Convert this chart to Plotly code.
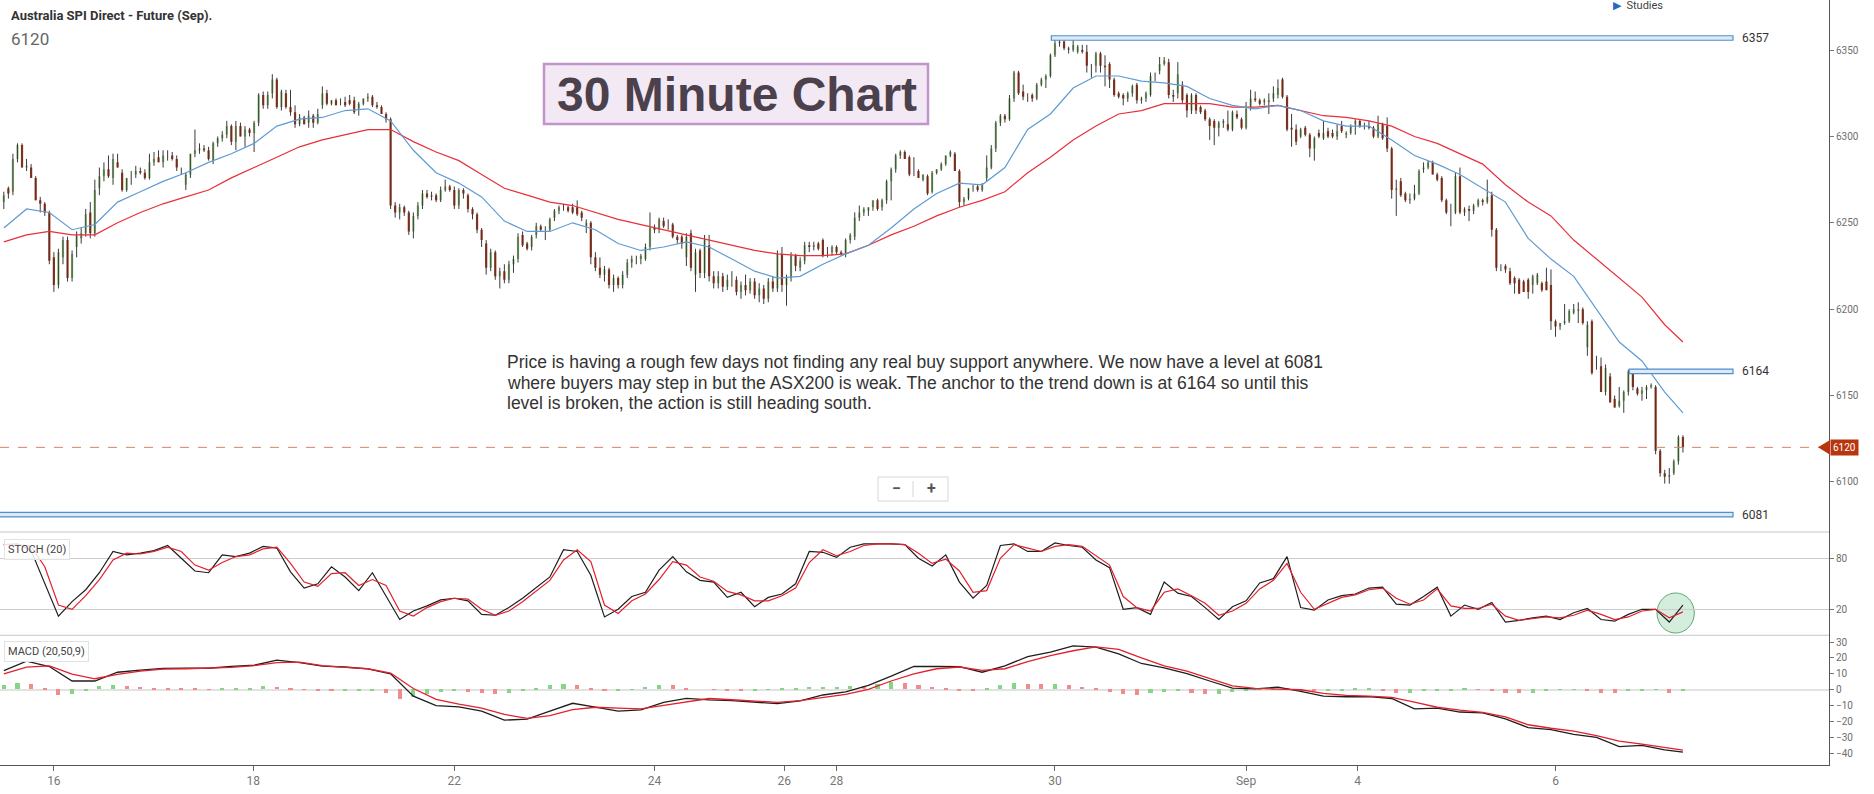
import plotly.graph_objects as go

# 30 minute bars, oldest first
opens = [
    6262, 6270, 6268, 6287, 6295, 6282, 6282, 6276, 6263, 6261,
    6256, 6230, 6214, 6230, 6240, 6218, 6236, 6241, 6244, 6256,
    6244, 6270, 6277, 6281, 6276, 6285, 6279, 6269, 6277, 6278,
    6280, 6279, 6276, 6285, 6288, 6285, 6289, 6289, 6287, 6280,
    6272, 6278, 6290, 6292, 6293, 6292, 6286, 6296, 6299, 6301,
    6306, 6297, 6306, 6300, 6304, 6302, 6308, 6324, 6318, 6325,
    6333, 6317, 6325, 6317, 6314, 6307, 6311, 6308, 6312, 6308,
    6318, 6325, 6319, 6321, 6320, 6320, 6321, 6321, 6316, 6319,
    6322, 6323, 6318, 6317, 6313, 6310, 6260, 6256, 6259, 6256,
    6245, 6254, 6260, 6267, 6265, 6266, 6263, 6269, 6271, 6269,
    6260, 6269, 6266, 6258, 6255, 6246, 6238, 6224, 6233, 6219,
    6222, 6217, 6226, 6229, 6243, 6238, 6236, 6243, 6248, 6246,
    6246, 6253, 6257, 6259, 6259, 6259, 6259, 6256, 6248, 6250,
    6230, 6224, 6220, 6223, 6214, 6218, 6214, 6220, 6227, 6229,
    6229, 6229, 6236, 6247, 6246, 6251, 6249, 6249, 6242, 6242,
    6230, 6244, 6220, 6234, 6221, 6237, 6219, 6215, 6219, 6213,
    6217, 6217, 6210, 6214, 6211, 6216, 6208, 6212, 6206, 6216,
    6212, 6232, 6214, 6218, 6231, 6224, 6228, 6237, 6236, 6238,
    6240, 6233, 6233, 6236, 6233, 6232, 6240, 6242, 6253, 6256,
    6257, 6259, 6263, 6259, 6263, 6274, 6281, 6289, 6291, 6288,
    6279, 6280, 6275, 6277, 6268, 6279, 6281, 6284, 6289, 6290,
    6280, 6262, 6264, 6270, 6271, 6269, 6276, 6282, 6293, 6308,
    6312, 6310, 6322, 6337, 6326, 6323, 6324, 6322, 6330, 6333,
    6335, 6347, 6354, 6355, 6350, 6350, 6349, 6350, 6349, 6341,
    6341, 6348, 6341, 6342, 6333, 6325, 6324, 6322, 6325, 6330,
    6321, 6322, 6324, 6335, 6338, 6342, 6343, 6324, 6325, 6330,
    6324, 6315, 6324, 6317, 6315, 6310, 6309, 6305, 6308, 6307,
    6304, 6313, 6310, 6305, 6317, 6322, 6321, 6320, 6320, 6322,
    6324, 6333, 6323, 6305, 6304, 6300, 6305, 6301, 6293, 6302,
    6299, 6303, 6302, 6300, 6306, 6301, 6302, 6307, 6309, 6306,
    6306, 6305, 6300, 6307, 6306, 6293, 6269, 6274, 6267, 6263,
    6264, 6267, 6281, 6282, 6285, 6278, 6276, 6263, 6256, 6256,
    6277, 6256, 6258, 6257, 6260, 6263, 6262, 6266, 6246, 6224,
    6225, 6222, 6218, 6217, 6216, 6217, 6214, 6215, 6215, 6216,
    6214, 6193, 6190, 6192, 6193, 6198, 6199, 6200, 6178, 6193,
    6167, 6167, 6152, 6161, 6148, 6144, 6147, 6152, 6164, 6154,
    6151, 6153, 6155, 6155, 6118, 6105, 6103, 6105, 6112, 6126,
]
highs = [
    6268, 6271, 6290, 6296, 6296, 6287, 6284, 6277, 6265, 6262,
    6257, 6233, 6235, 6242, 6242, 6234, 6245, 6247, 6258, 6262,
    6275, 6282, 6285, 6289, 6290, 6290, 6281, 6276, 6280, 6283,
    6282, 6281, 6290, 6291, 6292, 6292, 6292, 6291, 6289, 6282,
    6279, 6290, 6304, 6296, 6295, 6294, 6297, 6300, 6303, 6309,
    6307, 6309, 6308, 6306, 6305, 6309, 6325, 6326, 6326, 6336,
    6334, 6327, 6327, 6327, 6318, 6313, 6312, 6315, 6313, 6316,
    6329, 6327, 6321, 6322, 6322, 6323, 6324, 6323, 6320, 6322,
    6325, 6324, 6320, 6318, 6314, 6311, 6262, 6261, 6260, 6257,
    6256, 6262, 6269, 6269, 6268, 6267, 6271, 6275, 6272, 6271,
    6270, 6270, 6267, 6259, 6256, 6247, 6240, 6235, 6234, 6224,
    6226, 6228, 6231, 6244, 6245, 6239, 6243, 6250, 6249, 6248,
    6253, 6258, 6260, 6261, 6260, 6261, 6263, 6257, 6252, 6251,
    6233, 6230, 6225, 6224, 6220, 6219, 6222, 6229, 6231, 6231,
    6232, 6238, 6256, 6249, 6253, 6253, 6252, 6250, 6243, 6243,
    6244, 6246, 6235, 6235, 6243, 6243, 6222, 6222, 6221, 6220,
    6222, 6219, 6216, 6220, 6218, 6218, 6215, 6214, 6218, 6219,
    6234, 6236, 6220, 6233, 6232, 6230, 6239, 6239, 6239, 6239,
    6241, 6236, 6237, 6237, 6234, 6241, 6244, 6256, 6260, 6259,
    6259, 6263, 6264, 6264, 6275, 6282, 6290, 6292, 6292, 6289,
    6288, 6281, 6278, 6278, 6280, 6281, 6285, 6289, 6292, 6291,
    6281, 6265, 6270, 6272, 6272, 6273, 6289, 6295, 6309, 6313,
    6313, 6324, 6338, 6338, 6330, 6325, 6325, 6331, 6334, 6336,
    6348, 6356, 6357, 6356, 6352, 6357, 6353, 6353, 6353, 6342,
    6349, 6349, 6347, 6343, 6334, 6326, 6325, 6326, 6330, 6331,
    6323, 6326, 6337, 6337, 6346, 6346, 6345, 6327, 6343, 6332,
    6325, 6325, 6325, 6318, 6316, 6311, 6310, 6309, 6310, 6315,
    6315, 6315, 6311, 6320, 6327, 6326, 6322, 6322, 6325, 6329,
    6333, 6334, 6324, 6313, 6307, 6305, 6306, 6302, 6300, 6304,
    6309, 6305, 6304, 6307, 6309, 6303, 6307, 6310, 6310, 6308,
    6309, 6306, 6312, 6308, 6311, 6294, 6275, 6276, 6268, 6267,
    6272, 6281, 6285, 6286, 6286, 6279, 6277, 6264, 6261, 6279,
    6282, 6259, 6260, 6261, 6264, 6264, 6275, 6268, 6247, 6226,
    6226, 6224, 6219, 6218, 6217, 6218, 6220, 6221, 6216, 6224,
    6223, 6194, 6192, 6203, 6200, 6203, 6204, 6201, 6193, 6194,
    6173, 6172, 6168, 6163, 6150, 6155, 6153, 6165, 6165, 6155,
    6155, 6156, 6157, 6156, 6119, 6107, 6108, 6113, 6127, 6127,
]
lows = [
    6258, 6264, 6266, 6285, 6282, 6280, 6276, 6263, 6256, 6254,
    6226, 6210, 6212, 6226, 6216, 6216, 6230, 6238, 6242, 6241,
    6242, 6266, 6274, 6276, 6272, 6282, 6268, 6268, 6272, 6276,
    6278, 6275, 6275, 6283, 6285, 6282, 6286, 6286, 6280, 6278,
    6269, 6276, 6288, 6290, 6291, 6286, 6284, 6294, 6297, 6299,
    6295, 6292, 6300, 6294, 6300, 6291, 6306, 6316, 6316, 6322,
    6316, 6315, 6316, 6312, 6305, 6306, 6307, 6305, 6305, 6307,
    6316, 6318, 6318, 6318, 6318, 6317, 6318, 6313, 6312, 6318,
    6320, 6317, 6316, 6313, 6308, 6258, 6253, 6252, 6254, 6243,
    6241, 6252, 6258, 6264, 6263, 6262, 6262, 6268, 6268, 6258,
    6258, 6264, 6256, 6252, 6244, 6236, 6220, 6222, 6217, 6212,
    6215, 6215, 6221, 6227, 6236, 6234, 6234, 6241, 6245, 6240,
    6245, 6251, 6255, 6257, 6256, 6255, 6254, 6251, 6244, 6226,
    6222, 6218, 6216, 6212, 6210, 6212, 6212, 6218, 6224, 6226,
    6226, 6228, 6234, 6244, 6244, 6247, 6246, 6241, 6238, 6235,
    6225, 6222, 6210, 6218, 6218, 6216, 6212, 6212, 6210, 6211,
    6213, 6208, 6206, 6208, 6209, 6206, 6204, 6203, 6204, 6210,
    6210, 6210, 6202, 6216, 6222, 6222, 6226, 6233, 6234, 6234,
    6230, 6230, 6231, 6232, 6231, 6230, 6238, 6240, 6251, 6254,
    6254, 6257, 6257, 6257, 6261, 6263, 6279, 6287, 6287, 6277,
    6277, 6276, 6274, 6266, 6267, 6278, 6280, 6283, 6288, 6280,
    6259, 6260, 6263, 6268, 6268, 6268, 6274, 6281, 6291, 6306,
    6308, 6309, 6320, 6324, 6321, 6320, 6320, 6321, 6329, 6328,
    6334, 6346, 6352, 6350, 6348, 6349, 6348, 6348, 6337, 6334,
    6337, 6337, 6329, 6328, 6323, 6322, 6318, 6320, 6323, 6319,
    6319, 6320, 6323, 6332, 6336, 6341, 6322, 6320, 6322, 6319,
    6311, 6313, 6313, 6313, 6309, 6298, 6295, 6300, 6305, 6303,
    6303, 6310, 6304, 6304, 6315, 6320, 6318, 6318, 6313, 6320,
    6322, 6322, 6303, 6294, 6295, 6299, 6300, 6288, 6286, 6299,
    6298, 6299, 6299, 6298, 6302, 6299, 6301, 6301, 6305, 6304,
    6304, 6299, 6299, 6298, 6291, 6264, 6254, 6265, 6262, 6261,
    6263, 6266, 6279, 6281, 6278, 6274, 6262, 6255, 6248, 6255,
    6255, 6254, 6251, 6255, 6259, 6260, 6261, 6242, 6222, 6222,
    6221, 6214, 6209, 6209, 6210, 6206, 6209, 6214, 6210, 6211,
    6188, 6184, 6188, 6191, 6192, 6197, 6192, 6191, 6173, 6162,
    6165, 6152, 6150, 6146, 6143, 6143, 6140, 6150, 6153, 6150,
    6147, 6148, 6154, 6116, 6103, 6099, 6099, 6104, 6110, 6117,
]
closes = [
    6266, 6267, 6287, 6295, 6282, 6283, 6276, 6263, 6261, 6256,
    6228, 6214, 6233, 6240, 6218, 6232, 6243, 6244, 6255, 6244,
    6269, 6277, 6281, 6277, 6287, 6282, 6269, 6276, 6277, 6280,
    6279, 6276, 6285, 6287, 6285, 6289, 6289, 6287, 6282, 6280,
    6278, 6290, 6292, 6293, 6292, 6287, 6296, 6299, 6301, 6306,
    6297, 6306, 6300, 6304, 6302, 6308, 6324, 6318, 6324, 6333,
    6317, 6326, 6317, 6314, 6307, 6311, 6307, 6312, 6308, 6313,
    6325, 6319, 6321, 6318, 6320, 6318, 6319, 6314, 6319, 6322,
    6323, 6318, 6317, 6313, 6310, 6260, 6256, 6259, 6256, 6245,
    6254, 6260, 6267, 6265, 6266, 6263, 6269, 6271, 6269, 6260,
    6269, 6267, 6258, 6255, 6246, 6240, 6224, 6233, 6219, 6222,
    6217, 6226, 6229, 6242, 6237, 6235, 6242, 6248, 6246, 6246,
    6252, 6257, 6259, 6259, 6257, 6256, 6255, 6253, 6250, 6230,
    6224, 6220, 6223, 6214, 6218, 6214, 6220, 6227, 6229, 6229,
    6231, 6236, 6247, 6246, 6252, 6248, 6249, 6242, 6240, 6238,
    6242, 6224, 6233, 6221, 6240, 6219, 6215, 6219, 6213, 6217,
    6217, 6210, 6214, 6211, 6216, 6208, 6212, 6206, 6216, 6212,
    6232, 6214, 6218, 6231, 6225, 6228, 6237, 6236, 6237, 6235,
    6231, 6233, 6236, 6233, 6232, 6240, 6243, 6253, 6256, 6258,
    6259, 6263, 6258, 6263, 6274, 6281, 6289, 6291, 6287, 6278,
    6279, 6276, 6278, 6267, 6279, 6281, 6284, 6289, 6291, 6280,
    6262, 6264, 6270, 6270, 6269, 6272, 6282, 6293, 6308, 6312,
    6310, 6322, 6337, 6325, 6323, 6323, 6322, 6330, 6333, 6335,
    6347, 6354, 6355, 6351, 6351, 6353, 6352, 6349, 6341, 6341,
    6348, 6341, 6340, 6333, 6324, 6323, 6322, 6325, 6329, 6321,
    6322, 6325, 6335, 6335, 6342, 6344, 6324, 6323, 6336, 6321,
    6315, 6324, 6315, 6314, 6310, 6306, 6305, 6308, 6309, 6304,
    6314, 6311, 6305, 6316, 6322, 6321, 6319, 6321, 6321, 6325,
    6328, 6323, 6304, 6304, 6297, 6304, 6301, 6293, 6299, 6300,
    6302, 6300, 6300, 6303, 6303, 6302, 6306, 6309, 6306, 6306,
    6305, 6300, 6307, 6299, 6293, 6269, 6270, 6266, 6263, 6264,
    6267, 6280, 6282, 6285, 6278, 6275, 6263, 6256, 6256, 6277,
    6256, 6258, 6257, 6260, 6263, 6262, 6265, 6246, 6224, 6224,
    6223, 6215, 6215, 6209, 6210, 6210, 6219, 6220, 6211, 6211,
    6193, 6190, 6192, 6193, 6199, 6200, 6200, 6192, 6191, 6163,
    6167, 6152, 6166, 6146, 6143, 6147, 6152, 6164, 6155, 6151,
    6153, 6155, 6156, 6118, 6105, 6103, 6104, 6112, 6126, 6120,
]

# moving averages, read every 5th bar (plus the last one)
ema_fast = [
    6247, 6258, 6256, 6246, 6249, 6262, 6268, 6274, 6279, 6285,
    6290, 6296, 6306, 6310, 6311, 6315, 6316, 6309, 6292, 6279,
    6273, 6265, 6251, 6245, 6245, 6250, 6246, 6238, 6234, 6236,
    6239, 6236, 6229, 6222, 6218, 6219, 6226, 6232, 6237, 6247,
    6258, 6267, 6273, 6272, 6282, 6304, 6313, 6328, 6335, 6335,
    6332, 6331, 6329, 6322, 6318, 6316, 6318, 6315, 6309, 6306,
    6306, 6298, 6289, 6284, 6278, 6270, 6262, 6241, 6229, 6219,
    6200, 6181, 6170, 6152, 6140,
]
ema_slow = [
    6239, 6243, 6245, 6243, 6243, 6250, 6256, 6261, 6265, 6269,
    6276, 6282, 6288, 6294, 6298, 6301, 6304, 6304, 6297, 6291,
    6286, 6278, 6270, 6266, 6262, 6260, 6256, 6252, 6249, 6246,
    6243, 6240, 6237, 6234, 6232, 6231, 6231, 6232, 6237, 6243,
    6248, 6254, 6259, 6263, 6268, 6279, 6288, 6298, 6306, 6313,
    6315, 6319, 6319, 6319, 6317, 6317, 6318, 6315, 6312, 6311,
    6309, 6306, 6300, 6296, 6290, 6284, 6272, 6262, 6254, 6240,
    6229, 6218, 6207, 6191, 6181,
]

# stochastic (20), read every 3rd bar
stoch_k = [
    96, 97, 89, 50, 12, 29, 43, 63, 88, 84,
    86, 89, 95, 80, 65, 63, 84, 82, 86, 94,
    92, 64, 45, 50, 70, 58, 42, 63, 35, 8,
    18, 24, 31, 33, 30, 14, 13, 22, 33, 46,
    58, 90, 88, 60, 11, 20, 35, 40, 66, 82,
    64, 54, 52, 34, 40, 23, 34, 38, 50, 88,
    87, 81, 93, 97, 97, 97, 96, 80, 71, 84,
    52, 33, 48, 95, 97, 88, 88, 98, 95, 93,
    78, 69, 20, 22, 14, 52, 39, 35, 22, 8,
    23, 30, 51, 56, 82, 22, 19, 31, 36, 38,
    45, 46, 26, 25, 35, 46, 12, 25, 20, 28,
    5, 7, 10, 12, 8, 16, 21, 8, 6, 14,
    20, 20, 5, 25,
]
stoch_d = [
    96, 96, 94, 70, 25, 20, 36, 55, 78, 86,
    85, 88, 93, 88, 72, 66, 75, 82, 84, 91,
    93, 74, 52, 47, 62, 63, 48, 55, 48, 18,
    12, 22, 29, 33, 32, 20, 13, 18, 29, 42,
    54, 78, 90, 76, 25, 15, 30, 38, 55, 76,
    72, 58, 53, 41, 37, 30, 30, 36, 45, 75,
    90, 83, 88, 95, 97, 97, 96, 86, 74, 79,
    65, 40, 42, 80, 96, 92, 88, 94, 96, 94,
    83, 72, 35, 22, 18, 40, 44, 36, 27, 13,
    18, 27, 44, 54, 74, 40, 20, 27, 34, 37,
    43, 45, 33, 26, 31, 44, 24, 21, 21, 26,
    12, 7, 9, 11, 10, 13, 19, 14, 8, 11,
    18, 20, 10, 17,
]

# MACD (20,50,9): lines every 5th bar, histogram every 3rd bar
macd_line = [
    12, 18, 14.6, 5.5, 5.5, 11, 12.3, 13.4, 13.6, 13.5,
    14.7, 15.4, 18.6, 17, 14.9, 14.3, 13.1, 10, -4, -10,
    -10.7, -13.5, -19.1, -18.5, -13.4, -8.5, -10.9, -13.4, -12.6, -8,
    -5.4, -6.4, -6.9, -7.8, -8.7, -7, -3.3, -1.4, 2.8, 8.5,
    14.6, 14.6, 14.5, 11, 15, 20.8, 23.7, 27.6, 26.8, 22.6,
    16.5, 13.7, 10.2, 5.5, 1, 0.5, 1.7, -1, -4, -4.4,
    -4.3, -5.5, -12, -11.5, -14, -14.6, -18.3, -23.8, -25, -28.1,
    -30, -35.8, -35, -37.8, -39.2,
]
macd_signal = [
    10, 14.2, 15, 9.8, 6.9, 9.6, 11.7, 12.9, 13.2, 13.5,
    14, 15.2, 17, 17.3, 15.2, 14, 13.2, 10.5, 0.8, -6,
    -9, -11.5, -15.5, -18, -16.3, -12.5, -11, -11.6, -12, -9.8,
    -7.5, -5.5, -6.3, -7.3, -7.9, -6.8, -4.8, -2.9, 0.2, 5.5,
    10, 13.2, 14.3, 12.2, 13.2, 17.7, 21.5, 24.5, 27, 25.4,
    20, 15, 11.7, 7.3, 2.5, 0.9, 0.3, 0, -2.3, -3.5,
    -4, -4.8, -7.8, -11, -12.8, -14.2, -17.1, -22, -24.2, -26,
    -28.8, -32.3, -34.2, -36.5, -37.9,
]
macd_hist = [
    2.5, 3.8, 3.5, 1, -3.5, -3, -1, 2, 3, 2,
    1.5, 1.2, 1, 0.5, 0.3, 0.2, 0.3, 0.5, 1, 2.2,
    1.8, 0.8, -0.3, -0.6, -0.8, -0.7, -0.5, -0.4, -2, -6,
    -5, -3, -1.5, -0.8, -1.5, -2.5, -2.8, -2, -1, 0.5,
    2.5, 3.5, 3, 1, -0.8, -0.5, -0.3, 1.5, 3, 2.5,
    1, 0, -0.3, -0.5, -0.6, -0.5, -0.3, 0.3, 1, 1.5,
    1.5, 1.8, 2.3, 2.2, 3.5, 4.5, 4.3, 2.5, 1.5, 0.8,
    -0.5, -1, 0.5, 2.5, 3.8, 3.5, 3.2, 3.5, 2.5, 1.5,
    0.5, -1.5, -3, -3.2, -2.5, -1.8, -1.2, -2, -3, -2.8,
    -1.5, -0.5, 0.5, 0.8, 0.5, -0.5, -1, -0.8, -0.5, 0.3,
    0.3, -1, -2.5, -2.5, -1.2, -0.8, -0.5, 0.3, 0.2, -1,
    -2.2, -2.5, -2, -1.3, -0.3, -0.2, -0.8, -2.2, -2.5, -1,
    -0.5, -0.3, -2.5, -1.2,
]

date_labels = ["16", "18", "22", "24", "26", "28", "30", "Sep", "4", "6"]
date_bars = [11, 54.8, 99, 143, 171.5, 183, 231, 273, 297.5, 341]

levels = [6357, 6164, 6081]
last_price = 6120

note_lines = [
    "Price is having a rough few days not finding any real buy support anywhere. We now have a level at 6081",
    "where buyers may step in but the ASX200 is weak. The anchor to the trend down is at 6164 so until this",
    "level is broken, the action is still heading south.",
]

# ---------------------------------------------------------------------------
W, H = 1874, 794
MR, MB = 45, 29
PW, PH = W - MR, H - MB


def px(x):
    return x / PW


def py(y):
    return 1 - y / PH


n = len(closes)
bars = list(range(n))
ema_x = list(range(0, 5 * (len(ema_fast) - 1), 5)) + [n - 1]
osc_x = list(range(0, 3 * len(stoch_k), 3))

fig = go.Figure()

# wicks first so the bodies sit on top of them
wick_x, wick_y = [], []
for i in bars:
    wick_x += [i, i, None]
    wick_y += [lows[i], highs[i], None]
fig.add_trace(go.Scatter(x=wick_x, y=wick_y, mode="lines",
                         line=dict(color="#3a3a3a", width=1), hoverinfo="skip"))

fig.add_trace(go.Candlestick(
    x=bars, open=opens, high=highs, low=lows, close=closes,
    increasing=dict(fillcolor="#8fc27c", line=dict(color="#8fc27c", width=0)),
    decreasing=dict(fillcolor="#b5300e", line=dict(color="#b5300e", width=0)),
    whiskerwidth=0,
))

fig.add_trace(go.Scatter(x=ema_x, y=ema_slow, mode="lines", line=dict(color="#e8303a", width=1.2)))
fig.add_trace(go.Scatter(x=ema_x, y=ema_fast, mode="lines", line=dict(color="#5f9bd2", width=1.2)))

# stochastic panel
fig.add_trace(go.Scatter(x=osc_x, y=stoch_k, yaxis="y2", mode="lines",
                         line=dict(color="#1e1e1e", width=1.2)))
fig.add_trace(go.Scatter(x=osc_x, y=stoch_d, yaxis="y2", mode="lines",
                         line=dict(color="#e3202b", width=1.2)))

# macd panel
hist_colors = []
for i, v in enumerate(macd_hist):
    prev = macd_hist[i - 1] if i else v
    hist_colors.append("#86d486" if v >= prev else "#f08c8c")
fig.add_trace(go.Bar(x=osc_x, y=macd_hist, yaxis="y3", width=0.9,
                     marker=dict(color=hist_colors, line=dict(width=0))))
fig.add_trace(go.Scatter(x=ema_x, y=macd_line, yaxis="y3", mode="lines",
                         line=dict(color="#1e1e1e", width=1.3)))
fig.add_trace(go.Scatter(x=ema_x, y=macd_signal, yaxis="y3", mode="lines",
                         line=dict(color="#e3202b", width=1.3)))

tick_font = dict(family="Roboto", size=10, color="#6e6e6e")
axis_common = dict(side="right", anchor="x", showline=True, linecolor="#555555",
                   linewidth=1, ticks="outside", ticklen=4, tickcolor="#777777",
                   tickfont=tick_font, fixedrange=True)

fig.update_layout(
    width=W, height=H,
    margin=dict(l=0, r=MR, t=0, b=MB),
    paper_bgcolor="white", plot_bgcolor="white",
    showlegend=False,
    bargap=0,
    xaxis=dict(domain=[0, 1], range=[-0.84, 401.1], anchor="y3",
               tickmode="array", tickvals=date_bars, ticktext=date_labels,
               ticks="outside", ticklen=5, tickcolor="#666666",
               showline=True, linecolor="#555555", showgrid=False, zeroline=False,
               tickfont=dict(family="Roboto", size=12, color="#777777"),
               rangeslider=dict(visible=False)),
    yaxis=dict(domain=[0.3046, 1], range=[6071, 6379], showgrid=False, zeroline=False,
               tickvals=[6100, 6150, 6200, 6250, 6300, 6350], **axis_common),
    yaxis2=dict(domain=[0.1695, 0.3046], range=[-10.6, 110.9], showgrid=True,
                zeroline=False, gridcolor="#cccccc", tickvals=[20, 80], **axis_common),
    yaxis3=dict(domain=[0, 0.1695], range=[-47.3, 34.2], showgrid=False,
                zeroline=True, zerolinecolor="#e2e2e2",
                tickvals=[-40, -30, -20, -10, 0, 10, 20, 30], **axis_common),
)

shapes = []
# panel separators
for yy in (532, 635.3):
    shapes.append(dict(type="line", xref="paper", yref="paper", x0=0, x1=1,
                       y0=py(yy), y1=py(yy), line=dict(color="#c6c6c6", width=1)))

# horizontal levels drawn as hollow blue bars
level_start = {6357: 230.2, 6164: 357.2, 6081: -1}
for lv in levels:
    shapes.append(dict(type="rect", xref="x", yref="y", x0=level_start[lv], x1=380,
                       y0=lv - 1.3, y1=lv + 1.3, fillcolor="#dde9f6",
                       line=dict(color="#4f8fca", width=1.2)))

# last price line and tag arrow
shapes.append(dict(type="line", xref="paper", yref="y", x0=0, x1=1, y0=last_price,
                   y1=last_price, line=dict(color="#d4806e", width=1, dash="dash")))
shapes.append(dict(type="path", xref="paper", yref="y",
                   path=f"M {px(1818)},{last_price} L {px(1830)},{last_price + 4.3} "
                        f"L {px(1830)},{last_price - 4.3} Z",
                   fillcolor="#b8360f", line=dict(width=0)))

# title box
shapes.append(dict(type="rect", xref="paper", yref="paper", x0=px(544), x1=px(928),
                   y0=py(124), y1=py(64), fillcolor="#f2e9f4",
                   line=dict(color="#c194cc", width=2.5)))

# zoom buttons
shapes.append(dict(type="rect", xref="paper", yref="paper", x0=px(878), x1=px(948),
                   y0=py(501), y1=py(477), fillcolor="white",
                   line=dict(color="#d6d6d6", width=1)))
shapes.append(dict(type="line", xref="paper", yref="paper", x0=px(913), x1=px(913),
                   y0=py(497), y1=py(481), line=dict(color="#d6d6d6", width=1)))

# highlight circle on the stochastic
shapes.append(dict(type="circle", xref="x", yref="y2", x0=363.3, x1=371.5,
                   y0=-7.9, y1=39.2, fillcolor="rgba(120,200,150,0.32)",
                   line=dict(color="#5aaa72", width=1), layer="below"))

fig.update_layout(shapes=shapes)

ann = []
ann.append(dict(xref="paper", yref="paper", x=px(9), y=py(15), xanchor="left",
                yanchor="middle", showarrow=False,
                text="<b>Australia SPI Direct - Future (Sep).</b>",
                font=dict(family="Roboto", size=13, color="#333333")))
ann.append(dict(xref="paper", yref="paper", x=px(9), y=py(39), xanchor="left",
                yanchor="middle", showarrow=False, text=str(last_price),
                font=dict(family="Roboto", size=17, color="#666666")))
ann.append(dict(xref="paper", yref="paper", x=px(1611), y=py(6), xanchor="left",
                yanchor="middle", showarrow=False,
                text="<span style='color:#2b63c8'>▶</span>  Studies",
                font=dict(family="Roboto", size=11, color="#444444")))
ann.append(dict(xref="paper", yref="paper", x=px(737), y=py(94), xanchor="center",
                yanchor="middle", showarrow=False, text="<b>30 Minute Chart</b>",
                font=dict(family="Liberation Sans", size=48, color="#4b404b")))
for k, line in enumerate(note_lines):
    ann.append(dict(xref="paper", yref="paper", x=px(505), y=py(362 + 20.5 * k),
                    xanchor="left", yanchor="middle", showarrow=False, text=line,
                    font=dict(family="Liberation Sans", size=17.5, color="#333333")))
for lv in levels:
    ann.append(dict(xref="x", yref="y", x=381.6, y=lv, xanchor="left", yanchor="middle",
                    showarrow=False, text=str(lv),
                    font=dict(family="Roboto", size=12, color="#333333")))
ann.append(dict(xref="paper", yref="y", x=px(1830), y=last_price, xanchor="left",
                yanchor="middle", showarrow=False, text=str(last_price),
                bgcolor="#b8360f", borderpad=2,
                font=dict(family="Roboto", size=10, color="white")))
ann.append(dict(xref="paper", yref="paper", x=px(896), y=py(489), showarrow=False,
                text="<b>−</b>", font=dict(family="Roboto", size=16, color="#555555")))
ann.append(dict(xref="paper", yref="paper", x=px(931), y=py(489), showarrow=False,
                text="<b>+</b>", font=dict(family="Roboto", size=16, color="#555555")))
ann.append(dict(xref="paper", yref="paper", x=px(4), y=py(549), xanchor="left",
                yanchor="middle", showarrow=False, text="STOCH (20)",
                bgcolor="rgba(255,255,255,0.85)", bordercolor="#e2e2e2", borderpad=3,
                font=dict(family="Roboto", size=11, color="#444444")))
ann.append(dict(xref="paper", yref="paper", x=px(4), y=py(651), xanchor="left",
                yanchor="middle", showarrow=False, text="MACD (20,50,9)",
                bgcolor="rgba(255,255,255,0.85)", bordercolor="#e2e2e2", borderpad=3,
                font=dict(family="Roboto", size=11, color="#444444")))
fig.update_layout(annotations=ann)

fig.write_html("out.html", config={"displayModeBar": False},
               post_script="document.body.style.margin='0';")
